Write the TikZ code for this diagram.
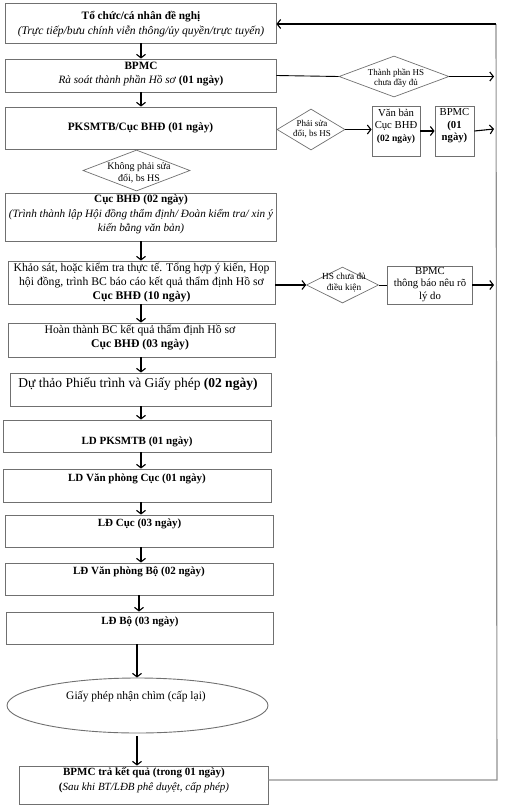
\documentclass[tikz,border=0pt]{standalone}
\usepackage{fontspec}
\setmainfont{Liberation Serif}
\usetikzlibrary{shapes.geometric,arrows.meta}
\definecolor{boxgray}{HTML}{707070}
\definecolor{linegray}{HTML}{909090}
\newcommand{\fs}[2]{\fontsize{#1}{#2}\selectfont}
\begin{document}
\begin{tikzpicture}[x=1pt,y=-1pt,
  box/.style={draw=boxgray, line width=0.9pt, inner sep=0pt, align=center},
  dia/.style={draw=boxgray, line width=0.7pt, diamond, inner sep=0pt},
  dtxt/.style={inner sep=0pt, align=center, font=\fs{9}{10.5}},
  txt/.style={inner sep=0pt, align=center},
  arr/.style={draw=black, line width=1.1pt, -{Straight Barb[length=3.5pt,width=9pt]}},
  ln/.style={draw=black, line width=0.9pt},
  fb/.style={draw=linegray, line width=1.1pt}
]
\useasboundingbox (0,0) rectangle (506,812);
% boxes
\node[box, minimum width=271pt, minimum height=40pt] (b1) at (140.5,23) {};
\node[txt, font=\fs{11.6}{15}] (t1) at (141,24.5) {{\fs{11.3}{15}\textbf{Tổ chức/cá nhân đề nghị}}\\\textit{(Trực tiếp/bưu chính viễn thông/ủy quyền/trực tuyến)}};
\node[box, minimum width=271pt, minimum height=33pt] (b2) at (140.5,75.5) {};
\node[txt, font=\fs{11.2}{14}] (t2) at (141,74) {\textbf{BPMC}\\\textit{Rà soát thành phần Hồ sơ} \textbf{(01 ngày)}};
\node[box, minimum width=271pt, minimum height=42pt, font=\fs{11.3}{13}] (b3) at (140.5,128) {\textbf{PKSMTB/Cục BHĐ (01 ngày)}};
\node[box, minimum width=271pt, minimum height=48pt] (b4) at (140.5,217) {};
\node[txt, font=\fs{11.2}{14.5}] (t4) at (141,214.5) {\textbf{Cục BHĐ (02 ngày)}\\\textit{(Trình thành lập Hội đồng thẩm định/ Đoàn kiểm tra/ xin ý}\\\textit{kiến bằng văn bản)}};
\node[box, minimum width=267pt, minimum height=43pt, font=\fs{11.7}{14}] (b5) at (141.5,282.5) {Khảo sát, hoặc kiểm tra thực tế. Tổng hợp ý kiến, Họp\\hội đồng, trình BC báo cáo kết quả thẩm định Hồ sơ\\\textbf{Cục BHĐ (10 ngày)}};
\node[box, minimum width=267pt, minimum height=34pt] (b6) at (141.5,340) {};
\node[txt, font=\fs{11.7}{14}] (t6) at (140,338) {Hoàn thành BC kết quả thẩm định Hồ sơ\\\textbf{Cục BHĐ (03 ngày)}};
\node[box, minimum width=261pt, minimum height=33pt] (b7) at (140.5,389.5) {};
\node[txt, font=\fs{13.5}{15}] (t7) at (138,384) {Dự thảo Phiếu trình và Giấy phép \textbf{(02 ngày)}};
\node[box, minimum width=268pt, minimum height=32pt] (b8) at (137,436) {};
\node[txt, font=\fs{11}{12}] (t8) at (137,442) {\textbf{LD PKSMTB (01 ngày)}};
\node[box, minimum width=268pt, minimum height=33pt] (b9) at (137,485.5) {};
\node[txt, font=\fs{11}{12}] (t9) at (137,479) {\textbf{LD Văn phòng Cục (01 ngày)}};
\node[box, minimum width=268pt, minimum height=32pt] (b10) at (139,531) {};
\node[txt, font=\fs{11}{12}] (t10) at (139.5,524) {\textbf{LĐ Cục (03 ngày)}};
\node[box, minimum width=268pt, minimum height=32pt] (b11) at (139,579) {};
\node[txt, font=\fs{11}{12}] (t11) at (139,572) {\textbf{LĐ Văn phòng Bộ (02 ngày)}};
\node[box, minimum width=267pt, minimum height=32pt] (b12) at (139.5,628) {};
\node[txt, font=\fs{11}{12}] (t12) at (140,622) {\textbf{LĐ Bộ (03 ngày)}};
\node[draw=boxgray, line width=0.9pt, ellipse, minimum width=261pt, minimum height=55pt, inner sep=0pt] (el) at (137.5,705.5) {};
\node[txt, font=\fs{11.5}{13}] (tel) at (136,697) {Giấy phép nhận chìm (cấp lại)};
\node[box, minimum width=249pt, minimum height=38pt] (b13) at (143.5,785) {};
\node[txt, font=\fs{11}{15}] (t13) at (144,780.5) {\textbf{BPMC trả kết quả (trong 01 ngày)}\\\textbf{(}\textit{Sau khi BT/LĐB phê duyệt, cấp phép)}};
% diamonds
\node[dia, minimum width=110pt, minimum height=41pt] (d1) at (394,76.5) {};
\node[dtxt] (td1) at (396,78) {Thành phần HS\\chưa đầy đủ};
\node[dia, minimum width=68pt, minimum height=41pt] (d2) at (311,129.5) {};
\node[dtxt] (td2) at (312,129) {Phải sửa\\đổi, bs HS};
\node[dia, minimum width=107pt, minimum height=41pt] (d3) at (136.5,170.5) {};
\node[dtxt, font=\fs{10}{12}] (td3) at (139,173) {Không phải sửa\\đổi, bs HS};
\node[dia, minimum width=72pt, minimum height=36pt] (d4) at (342.5,285) {};
\node[dtxt, font=\fs{9.3}{11}] (td4) at (344,282.5) {HS chưa đủ\\điều kiện};
% side boxes
\node[box, minimum width=48pt, minimum height=50pt] (v1) at (396,131) {};
\node[txt, font=\fs{10.7}{12.5}] (tv1) at (396,126) {Văn bản\\Cục BHĐ\\{\fs{9.6}{12.5}\textbf{(02 ngày)}}};
\node[box, minimum width=39pt, minimum height=50pt] (v2) at (454.5,131) {};
\node[txt, font=\fs{10.7}{12.5}] (tv2) at (454.5,126) {BPMC\\\textbf{(01}\\\textbf{ngày)}};
\node[box, minimum width=85pt, minimum height=38pt] (v3) at (429.5,285) {};
\node[txt, font=\fs{10.7}{12.5}] (tv3) at (430,284.5) {BPMC\\thông báo nêu rõ\\lý do};
% feedback line coordinates
\coordinate (fTop) at (496,24);
\coordinate (fBot) at (497,780);
\coordinate (e1) at (494,76.5);
\coordinate (e2) at (494,129);
\coordinate (e3) at (494,285);
% main vertical arrows
\draw[arr] (b1.south -| 141,0) -- (b2.north -| 141,0);
\draw[arr] (b2.south -| 141,0) -- (b3.north -| 141,0);
\draw[arr] (b4.south -| 141,0) -- (b5.north -| 141,0);
\draw[arr] (b5.south -| 141,0) -- (b6.north -| 141,0);
\draw[arr] (b6.south -| 141,0) -- (b7.north -| 141,0);
\draw[arr] (b7.south -| 141,0) -- (b8.north -| 141,0);
\draw[arr] (b8.south -| 141,0) -- (b9.north -| 141,0);
\draw[arr] (b9.south -| 141,0) -- (b10.north -| 141,0);
\draw[arr] (b10.south -| 141,0) -- (b11.north -| 141,0);
\draw[arr] (b11.south -| 139,0) -- (b12.north -| 139,0);
\draw[arr] (b12.south -| 137,0) -- (el.north -| 137,0);
\draw[arr] ([yshift=-3pt]el.south -| 137,0) -- (b13.north -| 137,0);
% side branches
\draw[ln] (b2.east) -- (d1.west);
\draw[arr] (d1.east) -- (e1);
\draw[arr] (d2.east) -- (v1.west |- d2.east);
\draw[arr] (v1.east) -- (v2.west);
\draw[arr] (v2.east) -- (e2);
\draw[arr] (b5.east |- d4.west) -- (d4.west);
\draw[ln] (d4.east) -- (v3.west);
\draw[arr] (v3.east) -- (e3);
% feedback
\draw[fb] (b13.east |- fBot) -- (fBot) -- (fTop);
\draw[arr] (fTop) -- (b1.east |- fTop);
\end{tikzpicture}
\end{document}
